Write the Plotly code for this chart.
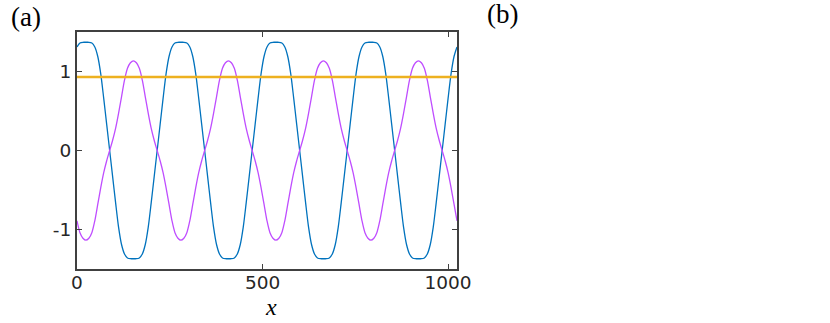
import numpy as np
import plotly.graph_objects as go

# sample positions along x (step 8)
x_vals = np.arange(0, 1025, 8)

# blue curve, every 8 units of x
blue_vals = [
    1.31, 1.36, 1.37, 1.37, 1.37, 1.36, 1.31, 1.19, 0.97, 0.66, 0.33, 0.00, -0.33, -0.66, -0.97, -1.19,
    -1.31, -1.36, -1.37, -1.37, -1.37, -1.36, -1.31, -1.19, -0.97, -0.66, -0.33, 0.00, 0.33, 0.66, 0.97, 1.19,
    1.31, 1.36, 1.37, 1.37, 1.37, 1.36, 1.31, 1.19, 0.97, 0.66, 0.33, 0.00, -0.33, -0.66, -0.97, -1.19,
    -1.31, -1.36, -1.37, -1.37, -1.37, -1.36, -1.31, -1.19, -0.97, -0.66, -0.33, 0.00, 0.33, 0.66, 0.97, 1.19,
    1.31, 1.36, 1.37, 1.37, 1.37, 1.36, 1.31, 1.19, 0.97, 0.66, 0.33, 0.00, -0.33, -0.66, -0.97, -1.19,
    -1.31, -1.36, -1.37, -1.37, -1.37, -1.36, -1.31, -1.19, -0.97, -0.66, -0.33, 0.00, 0.33, 0.66, 0.97, 1.19,
    1.31, 1.36, 1.37, 1.37, 1.37, 1.36, 1.31, 1.19, 0.97, 0.66, 0.33, 0.00, -0.33, -0.66, -0.97, -1.19,
    -1.31, -1.36, -1.37, -1.37, -1.37, -1.36, -1.31, -1.19, -0.97, -0.66, -0.33, 0.00, 0.33, 0.66, 0.97, 1.19,
    1.31,
]

# purple curve, same sampling
purple_vals = [
    -0.89, -1.04, -1.11, -1.135, -1.11, -1.04, -0.89, -0.68, -0.47, -0.28, -0.13, 0.00, 0.13, 0.28, 0.47, 0.68,
    0.89, 1.04, 1.11, 1.135, 1.11, 1.04, 0.89, 0.68, 0.47, 0.28, 0.13, 0.00, -0.13, -0.28, -0.47, -0.68,
    -0.89, -1.04, -1.11, -1.135, -1.11, -1.04, -0.89, -0.68, -0.47, -0.28, -0.13, 0.00, 0.13, 0.28, 0.47, 0.68,
    0.89, 1.04, 1.11, 1.135, 1.11, 1.04, 0.89, 0.68, 0.47, 0.28, 0.13, 0.00, -0.13, -0.28, -0.47, -0.68,
    -0.89, -1.04, -1.11, -1.135, -1.11, -1.04, -0.89, -0.68, -0.47, -0.28, -0.13, 0.00, 0.13, 0.28, 0.47, 0.68,
    0.89, 1.04, 1.11, 1.135, 1.11, 1.04, 0.89, 0.68, 0.47, 0.28, 0.13, 0.00, -0.13, -0.28, -0.47, -0.68,
    -0.89, -1.04, -1.11, -1.135, -1.11, -1.04, -0.89, -0.68, -0.47, -0.28, -0.13, 0.00, 0.13, 0.28, 0.47, 0.68,
    0.89, 1.04, 1.11, 1.135, 1.11, 1.04, 0.89, 0.68, 0.47, 0.28, 0.13, 0.00, -0.13, -0.28, -0.47, -0.68,
    -0.89,
]

# flat orange level
level_x = [0, 1024]
level_y = [0.93, 0.93]

x_ticks = [0, 500, 1000]
y_ticks = [-1, 0, 1]
y_ticklabels = ["-1", "0", "1"]

AXIS_COLOR = "#404040"

fig = go.Figure()
fig.add_trace(go.Scatter(
    x=x_vals, y=blue_vals, mode="lines",
    line=dict(color="#0072BD", width=1.3, shape="spline", smoothing=0.8),
))
fig.add_trace(go.Scatter(
    x=x_vals, y=purple_vals, mode="lines",
    line=dict(color="#BF4DFF", width=1.3, shape="spline", smoothing=0.8),
))
fig.add_trace(go.Scatter(
    x=level_x, y=level_y, mode="lines",
    line=dict(color="#EDB120", width=2.6),
))

axis_common = dict(
    showgrid=False, zeroline=False,
    showline=True, linecolor=AXIS_COLOR, linewidth=2, mirror="ticks",
    ticks="inside", ticklen=5, tickwidth=1.3, tickcolor=AXIS_COLOR,
    tickfont=dict(family="DejaVu Sans", size=18.5, color="#262626"),
)

fig.update_layout(
    width=830, height=323,
    margin=dict(l=77, r=373, t=32, b=54),
    paper_bgcolor="white", plot_bgcolor="white",
    showlegend=False,
    xaxis=dict(range=[0, 1024], tickvals=x_ticks, ticklabelstandoff=-4, **axis_common),
    yaxis=dict(range=[-1.5, 1.5], tickvals=y_ticks, ticktext=y_ticklabels, **axis_common),
    annotations=[
        dict(text="<i>x</i>", xref="paper", yref="paper", x=0.51, y=-0.162,
             xanchor="center", yanchor="middle", showarrow=False,
             font=dict(family="Liberation Serif", size=24, color="#000")),
        dict(text="(a)", xref="paper", yref="paper", x=-0.133, y=1.065,
             xanchor="center", yanchor="middle", showarrow=False,
             font=dict(family="Liberation Serif", size=27, color="#000")),
        dict(text="(b)", xref="paper", yref="paper", x=1.121, y=1.076,
             xanchor="center", yanchor="middle", showarrow=False,
             font=dict(family="Liberation Serif", size=27, color="#000")),
    ],
)

# drop the default 8px page margin so the figure sits at the window's corner
fig.write_html(
    "out.html",
    config={"displayModeBar": False},
    post_script="document.body.style.margin = '0';",
)
